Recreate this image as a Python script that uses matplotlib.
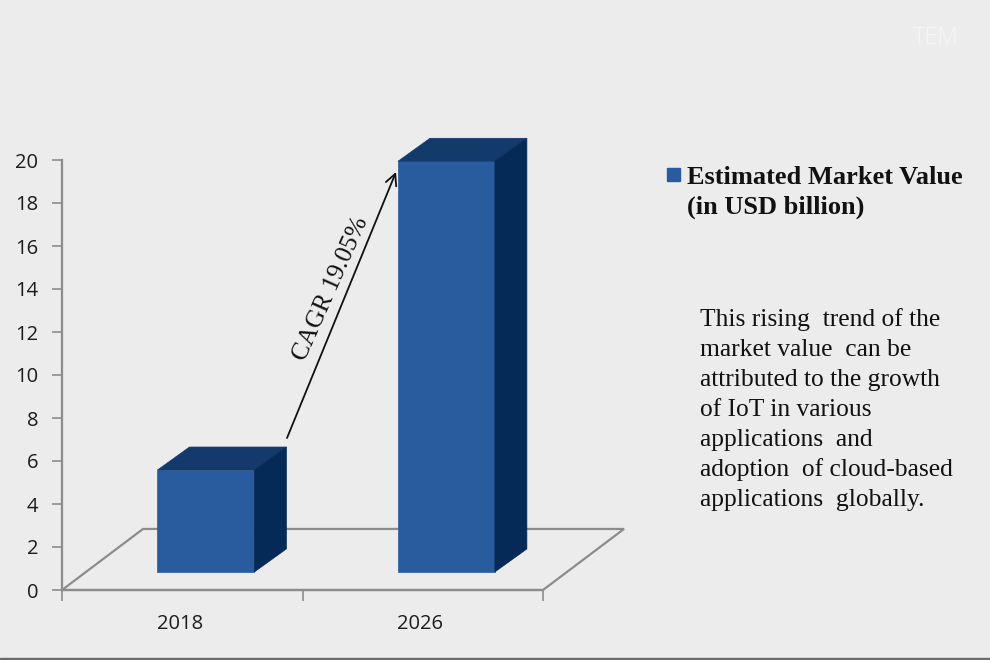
import matplotlib

matplotlib.use("Agg")

import matplotlib.pyplot as plt
from matplotlib.patches import Polygon, Rectangle

years = ["2018", "2026"]
market_value = [4.74, 19.1]
y_ticks = list(range(0, 21, 2))
legend_lines = "Estimated Market Value\n(in USD billion)"
note_lines = [
    "This rising  trend of the",
    "market value  can be",
    "attributed to the growth",
    "of IoT in various",
    "applications  and",
    "adoption  of cloud-based",
    "applications  globally.",
]

BG = "#ececec"
FRONT = "#285c9f"
TOP = "#14396b"
SIDE = "#062a58"
AXIS = "#8c8c8c"

W, H = 990, 660


def px(x, y):
    return x / W, 1 - y / H


fig = plt.figure(figsize=(W / 100, H / 100), dpi=100, facecolor=BG)
ax = fig.add_axes([62 / W, 1 - 590 / H, (543 - 62) / W, (590 - 160) / H])
ax.set_facecolor("none")
ax.set_xlim(0, len(years))
ax.set_ylim(0, 20)

# floor of the 3d box
floor_dx, floor_dy = 0.337, 2.84
ax.add_patch(
    Polygon(
        [(0, 0), (floor_dx, floor_dy), (2 + floor_dx, floor_dy), (2, 0)],
        closed=True,
        fill=False,
        edgecolor=AXIS,
        linewidth=1.6,
        clip_on=False,
        zorder=1,
    )
)

# bars: front face, top and side
bar_w, depth_x, depth_y, base = 0.403, 0.133, 1.07, 0.84
for i, val in enumerate(market_value):
    x0 = i + 0.397
    x1 = x0 + bar_w
    top = base + val
    ax.add_patch(Polygon([(x0, base), (x1, base), (x1, top), (x0, top)], color=FRONT, lw=0.5, clip_on=False, zorder=3))
    ax.add_patch(
        Polygon(
            [(x0, top), (x1, top), (x1 + depth_x, top + depth_y), (x0 + depth_x, top + depth_y)],
            color=TOP,
            lw=0.5,
            clip_on=False,
            zorder=3,
        )
    )
    ax.add_patch(
        Polygon(
            [(x1, base), (x1 + depth_x, base + depth_y), (x1 + depth_x, top + depth_y), (x1, top)],
            color=SIDE,
            lw=0.5,
            clip_on=False,
            zorder=3,
        )
    )

for side in ["top", "right"]:
    ax.spines[side].set_visible(False)
for side in ["left", "bottom"]:
    ax.spines[side].set_color(AXIS)
    ax.spines[side].set_linewidth(1.6)

ax.set_yticks(y_ticks)
ax.set_xticks([0, 1, 2])
ax.set_xticklabels([])
ax.set_xticks([0.49, 1.49], labels=years, minor=True)
ax.tick_params(axis="x", which="major", length=8, width=1.2, color=AXIS)
ax.tick_params(axis="x", which="minor", length=0, pad=17, labelsize=14.5, labelcolor="#1c1c1c")
ax.tick_params(axis="y", length=7, width=1.2, color=AXIS, pad=10, labelsize=14.5, labelcolor="#1c1c1c")
for lab in ax.get_xticklabels(minor=True) + ax.get_yticklabels():
    lab.set_fontfamily("Open Sans")
    lab.set_fontweight("medium")

# cagr arrow
ax.annotate(
    "",
    xy=px(396, 172),
    xytext=px(287, 438),
    xycoords="figure fraction",
    textcoords="figure fraction",
    arrowprops=dict(arrowstyle="->", color="#111111", lw=1.3, mutation_scale=20, shrinkA=0, shrinkB=0),
    annotation_clip=False,
)
fig.text(*px(331, 289), "CAGR 19.05%", rotation=66, rotation_mode="anchor", ha="center", va="center",
         family="Liberation Serif", fontsize=18.3, color="#111111")

# legend
fig.add_artist(Rectangle(px(667, 181), 13 / W, 13 / H, transform=fig.transFigure, color=FRONT))
fig.text(*px(687, 177), legend_lines.split("\n")[0], va="center", family="Liberation Serif",
         fontweight="bold", fontsize=19, color="#111111")
fig.text(*px(687, 207), legend_lines.split("\n")[1], va="center", family="Liberation Serif",
         fontweight="bold", fontsize=19, color="#111111")

# side note
for n, line in enumerate(note_lines):
    fig.text(*px(700, 320 + n * 30), line, va="center", family="Liberation Serif", fontsize=18.4, color="#111111")

# watermark
fig.text(*px(936, 38), "TEM", ha="center", va="center", family="Open Sans", fontsize=17, fontweight="light",
         color="#f6f6f6")

# dark line along the bottom edge
fig.add_artist(Rectangle((0, 0), 1, 2 / H, transform=fig.transFigure, color="#6a6a6a"))

fig.savefig("out.png", dpi=100, facecolor=BG)
